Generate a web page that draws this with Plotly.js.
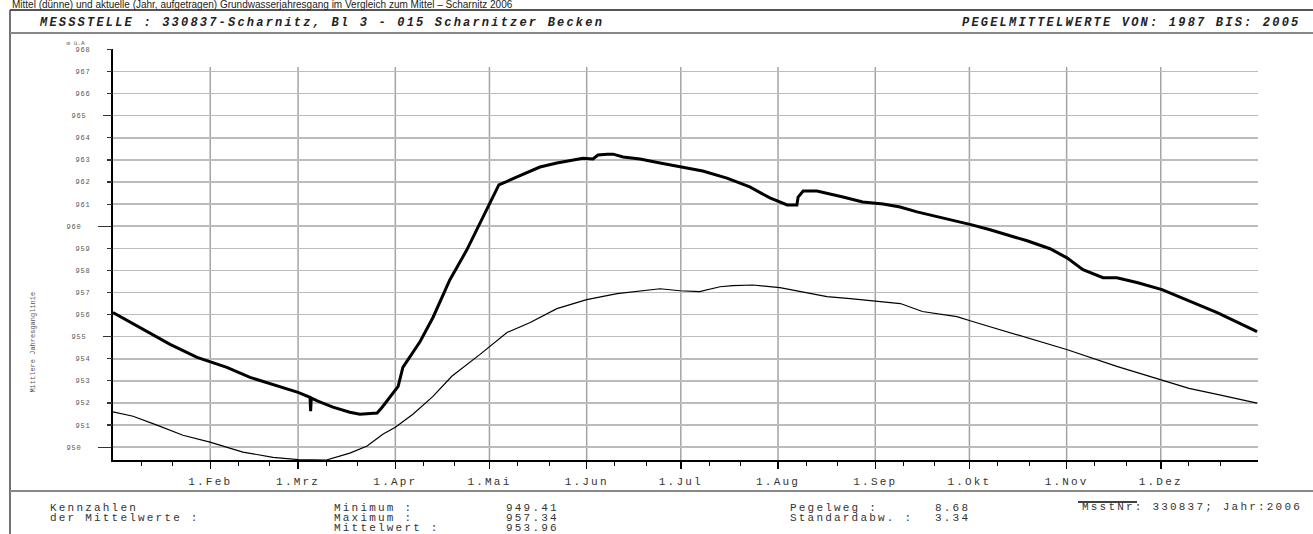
<!DOCTYPE html>
<html><head><meta charset="utf-8">
<script src="https://cdn.plot.ly/plotly-3.0.1.min.js"></script>
<style>
html,body{margin:0;padding:0;background:#fff;}
#chart{width:1313px;height:534px;}
.xtick text{letter-spacing:2.2px;}
.ytick text,.y2tick text,.y3tick text{letter-spacing:0.8px;}
.annotation-text{letter-spacing:2.2px;}
.annotation[data-index="0"] text,.annotation[data-index="1"] text,.annotation[data-index="2"] text{letter-spacing:0px;}
</style></head><body><div id="chart"></div><script>
// ---- data (day of year, m ü.A) ----
const monthDays = [31, 59, 90, 120, 151, 181, 212, 243, 273, 304, 334];
const monthLabels = ["1.Feb","1.Mrz","1.Apr","1.Mai","1.Jun","1.Jul","1.Aug","1.Sep","1.Okt","1.Nov","1.Dez"];
const minorDays = [9,19,40,50,68,78,99,109,129,139,160,170,190,200,221,231,252,262,282,292,313,323,343,353];
const yLongTicks = [950, 960];
const yMidTicks = [955, 965];
const ySmallTicks = [951,952,953,954,956,957,958,959,961,962,963,964,966,967,968];

const year2006Day = [0,8.6,18.2,26.8,30.9,36.3,43.7,53.2,59,62.8,63.0,63.2,65.3,70.1,75.5,78.7,84.2,85.8,87.3,89.3,90.9,92.4,97.9,102,107.4,112.8,118,123,128.8,136.1,141.5,146.6,149.8,153,154.6,157.5,159.4,162.6,168,174.4,181.7,188,195.7,203,209.4,214.9,218,218.4,220,224.4,232.7,239,245.5,250.9,256.3,264.6,273.8,279.6,291.4,298.7,304.1,309.2,315.6,320,326.4,334.4,345.6,352,364.7];
const year2006Val = [956.09,955.42,954.65,954.06,953.88,953.61,953.16,952.75,952.48,952.26,951.63,952.22,952.08,951.81,951.58,951.49,951.55,951.81,952.08,952.48,952.75,953.61,954.78,955.87,957.58,958.93,960.42,961.87,962.23,962.68,962.86,962.99,963.08,963.04,963.22,963.26,963.26,963.13,963.04,962.86,962.68,962.50,962.18,961.78,961.28,960.96,960.96,961.32,961.59,961.59,961.32,961.10,961.01,960.87,960.65,960.38,960.06,959.84,959.34,958.98,958.57,958.03,957.67,957.67,957.45,957.13,956.45,956.09,955.23];

const meanDay = [0,6.4,14,22.3,30.9,41.4,51,59,68,75.5,81,86,90,95.6,102,108,117,125.6,133,139,141.5,151,160.7,174.4,180.7,187,193.5,197.6,204,212.6,219,227.6,235,243.5,251,258,269,274,290,304,320,334.4,343,352,364.7];
const meanVal = [951.60,951.40,951.00,950.54,950.23,949.78,949.54,949.44,949.42,949.73,950.05,950.59,950.90,951.49,952.30,953.21,954.20,955.19,955.64,956.09,956.27,956.68,956.95,957.17,957.08,957.04,957.26,957.31,957.34,957.22,957.04,956.81,956.72,956.59,956.50,956.14,955.91,955.69,955.01,954.42,953.66,953.02,952.66,952.39,951.99];

// ---- layout geometry (pixels) ----
const FIG_W = 1313, FIG_H = 534;
const PL = 113, PR = 1258, PT = 49, PB = 460;
const px = v => (v - PL) / (PR - PL);
const py = v => (PB - v) / (PB - PT);
const Y_RANGE = [949.42, 968.02];

const MONO = "Liberation Mono, Courier New, monospace";

const traces = [
  {x: meanDay, y: meanVal, type: 'scatter', mode: 'lines', line: {color: '#000', width: 1.2}, hoverinfo: 'skip', name: 'Mittel'},
  {x: year2006Day, y: year2006Val, type: 'scatter', mode: 'lines', line: {color: '#000', width: 3}, hoverinfo: 'skip', name: '2006'}
];

const shapes = [];
monthDays.forEach(d => shapes.push({type: 'line', xref: 'x', yref: 'y', x0: d, x1: d, y0: Y_RANGE[0], y1: 967.2, line: {color: '#a4a4a4', width: 1.5}, layer: 'below'}));
const paperLine = (x0, y0, x1, y1, color, width) => ({type: 'line', xref: 'paper', yref: 'paper', x0: px(x0), x1: px(x1), y0: py(y0), y1: py(y1), line: {color: color, width: width}});
shapes.push(paperLine(10, 10, 1313, 10, '#555', 2));
shapes.push(paperLine(10, 10, 10, 534, '#444', 1.5));
shapes.push(paperLine(10, 33, 1313, 33, '#888', 2));
shapes.push(paperLine(10, 491, 1313, 491, '#888', 2));
shapes.push(paperLine(1078, 502, 1137, 502, '#000', 1.5));

const ann = (text, x, y, opts) => Object.assign({text: text, xref: 'paper', yref: 'paper', x: px(x), y: py(y), xanchor: 'left', yanchor: 'middle', showarrow: false, font: {family: MONO, size: 11, color: '#333'}}, opts || {});

const annotations = [
  ann('Mittel (dünne) und aktuelle (Jahr, aufgetragen) Grundwasserjahresgang im Vergleich zum Mittel – Scharnitz 2006', 262, 5.0, {xanchor: 'center', font: {family: 'Liberation Sans, Arial, sans-serif', size: 10, color: '#222'}}),
  ann('Mittlere Jahresganglinie', 33, 342, {xanchor: 'center', textangle: -90, font: {family: MONO, size: 7, color: '#555'}}),
  ann('m ü.A', 75, 43, {xanchor: 'center', font: {family: MONO, size: 6, color: '#555'}}),
  ann('MESSSTELLE : 330837-Scharnitz, Bl 3 - 015 Scharnitzer Becken', 37, 23, {font: {family: MONO, size: 12, color: '#222', weight: 'bold', style: 'italic'}}),
  ann('PEGELMITTELWERTE VON: 1987 BIS: 2005', 1302, 23, {xanchor: 'right', font: {family: MONO, size: 12, color: '#222', weight: 'bold', style: 'italic'}}),
  ann('Kennzahlen', 48, 508),
  ann('der Mittelwerte :', 48, 518),
  ann('Minimum :', 332, 508),
  ann('Maximum :', 332, 518),
  ann('Mittelwert :', 332, 528),
  ann('949.41', 504, 508),
  ann('957.34', 504, 518),
  ann('953.96', 504, 528),
  ann('Pegelweg :', 788, 508),
  ann('Standardabw. :', 788, 518),
  ann('8.68', 933, 508),
  ann('3.34', 933, 518),
  ann('MsstNr: 330837; Jahr:2006', 1080, 507)
];

const yBase = {range: Y_RANGE, tickmode: 'array', ticks: 'outside', tickcolor: '#333', tickwidth: 1.2,
  showgrid: true, gridcolor: '#bcbcbc', gridwidth: 1.5, zeroline: false, ticklabelstandoff: 15,
  tickfont: {family: MONO, size: 7, color: '#555'}, fixedrange: true};

const layout = {
  width: FIG_W, height: FIG_H,
  margin: {l: PL, r: FIG_W - PR, t: PT, b: FIG_H - PB, pad: 0},
  paper_bgcolor: '#fff', plot_bgcolor: '#fff',
  showlegend: false,
  xaxis: {range: [0, 365], tickmode: 'array', tickvals: monthDays, ticktext: monthLabels,
    ticks: 'outside', ticklen: 7, tickwidth: 1.5, tickcolor: '#000',
    showline: true, linecolor: '#000', linewidth: 2, showgrid: false, zeroline: false,
    tickfont: {family: MONO, size: 11, color: '#333'}, ticklabelstandoff: 3,
    minor: {tickmode: 'array', tickvals: minorDays, ticks: 'outside', ticklen: 4, tickwidth: 1, tickcolor: '#000', showgrid: false},
    fixedrange: true},
  yaxis: Object.assign({}, yBase, {tickvals: yLongTicks, ticktext: yLongTicks.map(String), ticklen: 13, showline: true, linecolor: '#000', linewidth: 2}),
  yaxis2: Object.assign({}, yBase, {tickvals: yMidTicks, ticktext: yMidTicks.map(String), ticklen: 9, overlaying: 'y', anchor: 'x', side: 'left', showline: false}),
  yaxis3: Object.assign({}, yBase, {tickvals: ySmallTicks, ticktext: ySmallTicks.map(String), ticklen: 5, overlaying: 'y', anchor: 'x', side: 'left', showline: false}),
  shapes: shapes,
  annotations: annotations
};

// invisible helper traces so the overlay tick axes render
traces.push({x: [0], y: [955], yaxis: 'y2', mode: 'markers', marker: {opacity: 0}, hoverinfo: 'skip'});
traces.push({x: [0], y: [955], yaxis: 'y3', mode: 'markers', marker: {opacity: 0}, hoverinfo: 'skip'});

Plotly.newPlot('chart', traces, layout, {staticPlot: true, displayModeBar: false});
</script></body></html>
